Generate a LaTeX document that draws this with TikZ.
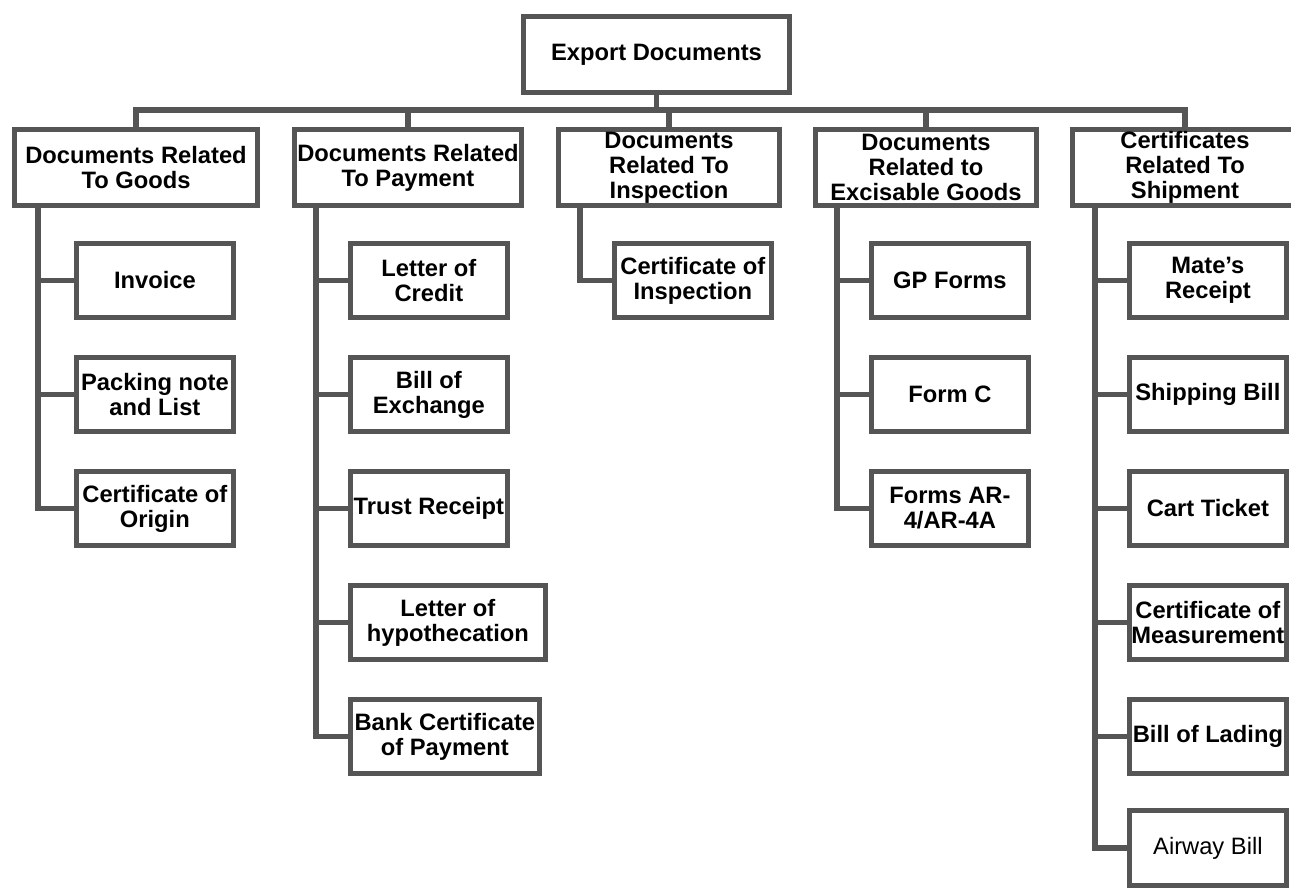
\documentclass[tikz,border=0pt]{standalone}
\usepackage{fontspec}
\setmainfont{Liberation Sans}
\usetikzlibrary{shapes.geometric}
\definecolor{boxgray}{RGB}{85,85,85}

\begin{document}
\begin{tikzpicture}[
  head/.style={rectangle,draw=boxgray,line width=3pt,minimum width=4.41cm,minimum height=1.51cm,inner sep=0pt,align=center,font=\fontsize{13.5}{14.3}\selectfont\bfseries},
  leaf/.style={head,anchor=west,minimum width=3.13cm,minimum height=1.49cm},
  link/.style={draw=boxgray,line width=3pt}]
\useasboundingbox (0,0) rectangle (25.82,-17.76);

% Export
\node[head,minimum width=5.31cm] at(13.13,-1.09) (doc) {Export Documents};
\coordinate (bus) at(13.13,-2.2);

%level 1
\node[head,minimum width=4.85cm] at(2.72,-3.35) (goods) {Documents Related\\To Goods};
\node[head,minimum width=4.53cm] at(8.16,-3.35) (pay) {Documents Related\\To Payment};
\node[head] at(13.38,-3.35) (insp) {Documents\\Related To\\Inspection};
\node[head] at(18.52,-3.35) (exc) {Documents\\Related to\\Excisable Goods};
\node[head,minimum width=4.49cm] at(23.7,-3.35) (ship) {Certificates\\Related To\\Shipment};

\draw[link] (doc.south) -- (bus) -| (goods.north);
\draw[link] (doc.south) -- (bus) -| (pay.north);
\draw[link] (doc.south) -- (bus) -| (insp.north);
\draw[link] (doc.south) -- (bus) -| (exc.north);
\draw[link] (doc.south) -- (bus) -| (ship.north);

% Goods
\node[leaf] at(1.48,-5.61) (g1) {Invoice};
\node[leaf] at(1.48,-7.89) (g2) {Packing note\\and List};
\node[leaf] at(1.48,-10.17) (g3) {Certificate of\\Origin};

\draw[link] ([xshift=0.52cm]goods.south west) |- (g1.west);
\draw[link] ([xshift=0.52cm]goods.south west) |- (g2.west);
\draw[link] ([xshift=0.52cm]goods.south west) |- (g3.west);

% Payment
\node[leaf] at(6.96,-5.61) (p1) {Letter of\\Credit};
\node[leaf] at(6.96,-7.89) (p2) {Bill of\\Exchange};
\node[leaf] at(6.96,-10.17) (p3) {Trust Receipt};
\node[leaf,minimum width=3.89cm] at(6.96,-12.45) (p4) {Letter of\\hypothecation};
\node[leaf,minimum width=3.77cm] at(6.96,-14.73) (p5) {Bank Certificate\\of Payment};

\draw[link] ([xshift=0.48cm]pay.south west) |- (p1.west);
\draw[link] ([xshift=0.48cm]pay.south west) |- (p2.west);
\draw[link] ([xshift=0.48cm]pay.south west) |- (p3.west);
\draw[link] ([xshift=0.48cm]pay.south west) |- (p4.west);
\draw[link] ([xshift=0.48cm]pay.south west) |- (p5.west);

% Inspection
\node[leaf] at(12.24,-5.61) (i1) {Certificate of\\Inspection};

\draw[link] ([xshift=0.48cm]insp.south west) |- (i1.west);

% Excisable
\node[leaf] at(17.38,-5.61) (e1) {GP Forms};
\node[leaf] at(17.38,-7.89) (e2) {Form C};
\node[leaf] at(17.38,-10.17) (e3) {Forms AR-\\4/AR-4A};

\draw[link] ([xshift=0.48cm]exc.south west) |- (e1.west);
\draw[link] ([xshift=0.48cm]exc.south west) |- (e2.west);
\draw[link] ([xshift=0.48cm]exc.south west) |- (e3.west);

% Shipment
\node[leaf] at(22.54,-5.61) (s1) {Mate’s\\Receipt};
\node[leaf] at(22.54,-7.89) (s2) {Shipping Bill};
\node[leaf] at(22.54,-10.17) (s3) {Cart Ticket};
\node[leaf] at(22.54,-12.45) (s4) {Certificate of\\Measurement};
\node[leaf] at(22.54,-14.73) (s5) {Bill of Lading};
\node[leaf,font=\fontsize{13.5}{14.3}\selectfont] at(22.54,-16.96) (s6) {Airway Bill};

\draw[link] ([xshift=0.5cm]ship.south west) |- (s1.west);
\draw[link] ([xshift=0.5cm]ship.south west) |- (s2.west);
\draw[link] ([xshift=0.5cm]ship.south west) |- (s3.west);
\draw[link] ([xshift=0.5cm]ship.south west) |- (s4.west);
\draw[link] ([xshift=0.5cm]ship.south west) |- (s5.west);
\draw[link] ([xshift=0.5cm]ship.south west) |- (s6.west);
\end{tikzpicture}
\end{document}
